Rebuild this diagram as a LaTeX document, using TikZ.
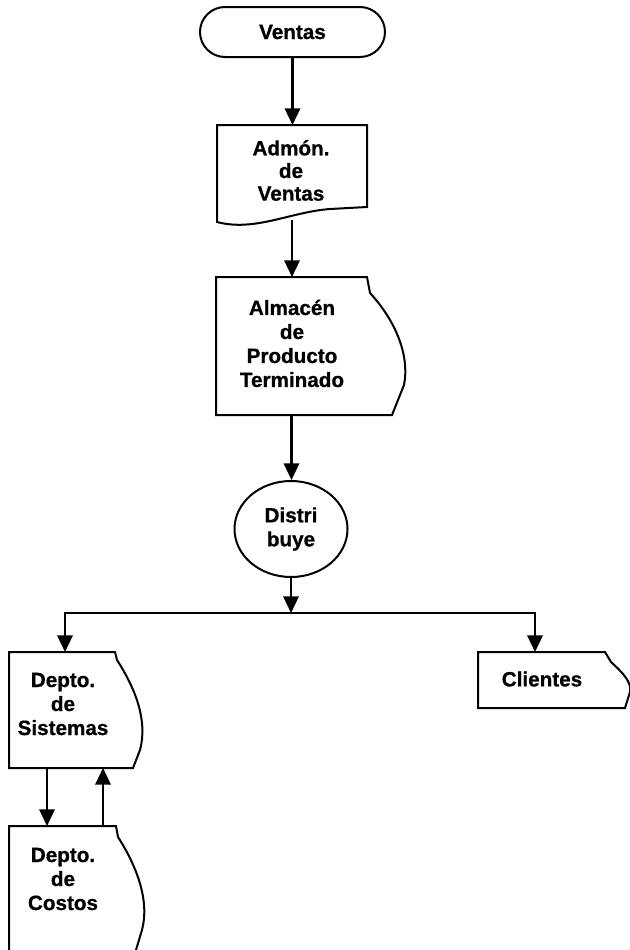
\documentclass[tikz,border=0pt]{standalone}
\usepackage{fontspec}
\setmainfont{Liberation Sans}[BoldFeatures={FakeBold=0.8}]
\usetikzlibrary{arrows.meta,shapes.geometric}
\newdimen\pxu \pxu=0.75pt
\tikzset{
  x=0.75pt, y=-0.75pt,
  outline/.style={line width=1.5pt, line join=miter},
  conn/.style={line width=1.8pt, -{Triangle[length=12.5pt,width=11.5pt]}},
  lbl/.style={font=\fontsize{15.5}{18}\selectfont\bfseries, align=center, inner sep=0pt},
  area/.style={inner sep=0pt, outer sep=0pt, minimum width=20\pxu},
}
\begin{document}
\begin{tikzpicture}
\fill[white] (0,0) rectangle (630,950);
\useasboundingbox (0,0) rectangle (630,950);
\clip (0,0) rectangle (630,950);

% terminator
\node[outline, draw, rounded corners=25\pxu, minimum width=185\pxu, minimum height=50\pxu, lbl] (ventas) at (292.5,32) {Ventas};

% document / storage boxes (anchors only; outlines drawn below)
\node[area, minimum height=95\pxu]  (admon)    at (292,172.5) {};
\node[area, minimum height=138\pxu] (almacen)  at (291.5,346) {};
\node[area, minimum height=116\pxu] (sistemas) at (65,710) {};
\node[area, minimum height=124\pxu] (costos)   at (65,888) {};
\node[area, minimum height=56\pxu]  (clientes) at (535,680) {};

% process circle
\node[outline, draw, ellipse, minimum width=113\pxu, minimum height=96\pxu, lbl] (distri) at (291,529) {Distri\\buye};

% outlines
\draw[outline] (217,125) -- (367,125) -- (367,207) -- (330,209)
  .. controls (290,212) and (255,232) .. (217,222) -- cycle;
\draw[outline] (216,277) -- (367,277) -- (370,293)
  .. controls (395,320) and (410,355) .. (404,385) -- (392,415) -- (216,415) -- cycle;
\draw[outline] (9,652) -- (115,652) -- (117,660)
  .. controls (135,688) and (148,720) .. (140,750) -- (133,768) -- (9,768) -- cycle;
\draw[outline] (9,960) -- (9,826) -- (116,826) -- (118,837)
  .. controls (136,865) and (150,900) .. (142,930) -- (133,960);
\draw[outline] (478,652) -- (605,652) -- (611,662)
  .. controls (622,672) and (632,682) .. (630,692) -- (625,708) -- (478,708) -- cycle;

% labels
\node[lbl] (admon-t)    at (291,170.5) {Admón.\\[-1pt]de\\[-1pt]Ventas};
\node[lbl] (almacen-t)  at (292,343.5) {Almacén\\de\\Producto\\Terminado};
\node[lbl] (sistemas-t) at (63,704)    {Depto.\\de\\Sistemas};
\node[lbl] (costos-t)   at (63,879)    {Depto.\\de\\Costos};
\node[lbl] (clientes-t) at (542,679)   {Clientes};

% connectors
\coordinate (split) at (291,613);
\draw[conn] (ventas.south) -- (ventas.south |- admon.north);
\draw[conn] (admon.south) -- (admon.south |- almacen.north);
\draw[conn] (almacen.south) -- (almacen.south |- distri.north);
\draw[conn] (distri.south) -- (distri.south |- split);
\draw[conn] (split) -| (sistemas.north);
\draw[conn] (split) -| (clientes.north);
\draw[conn] ([xshift=-18\pxu]sistemas.south) -- ([xshift=-18\pxu]costos.north);
\draw[conn] ([xshift=38\pxu]costos.north) -- ([xshift=38\pxu]sistemas.south);
\end{tikzpicture}
\end{document}
